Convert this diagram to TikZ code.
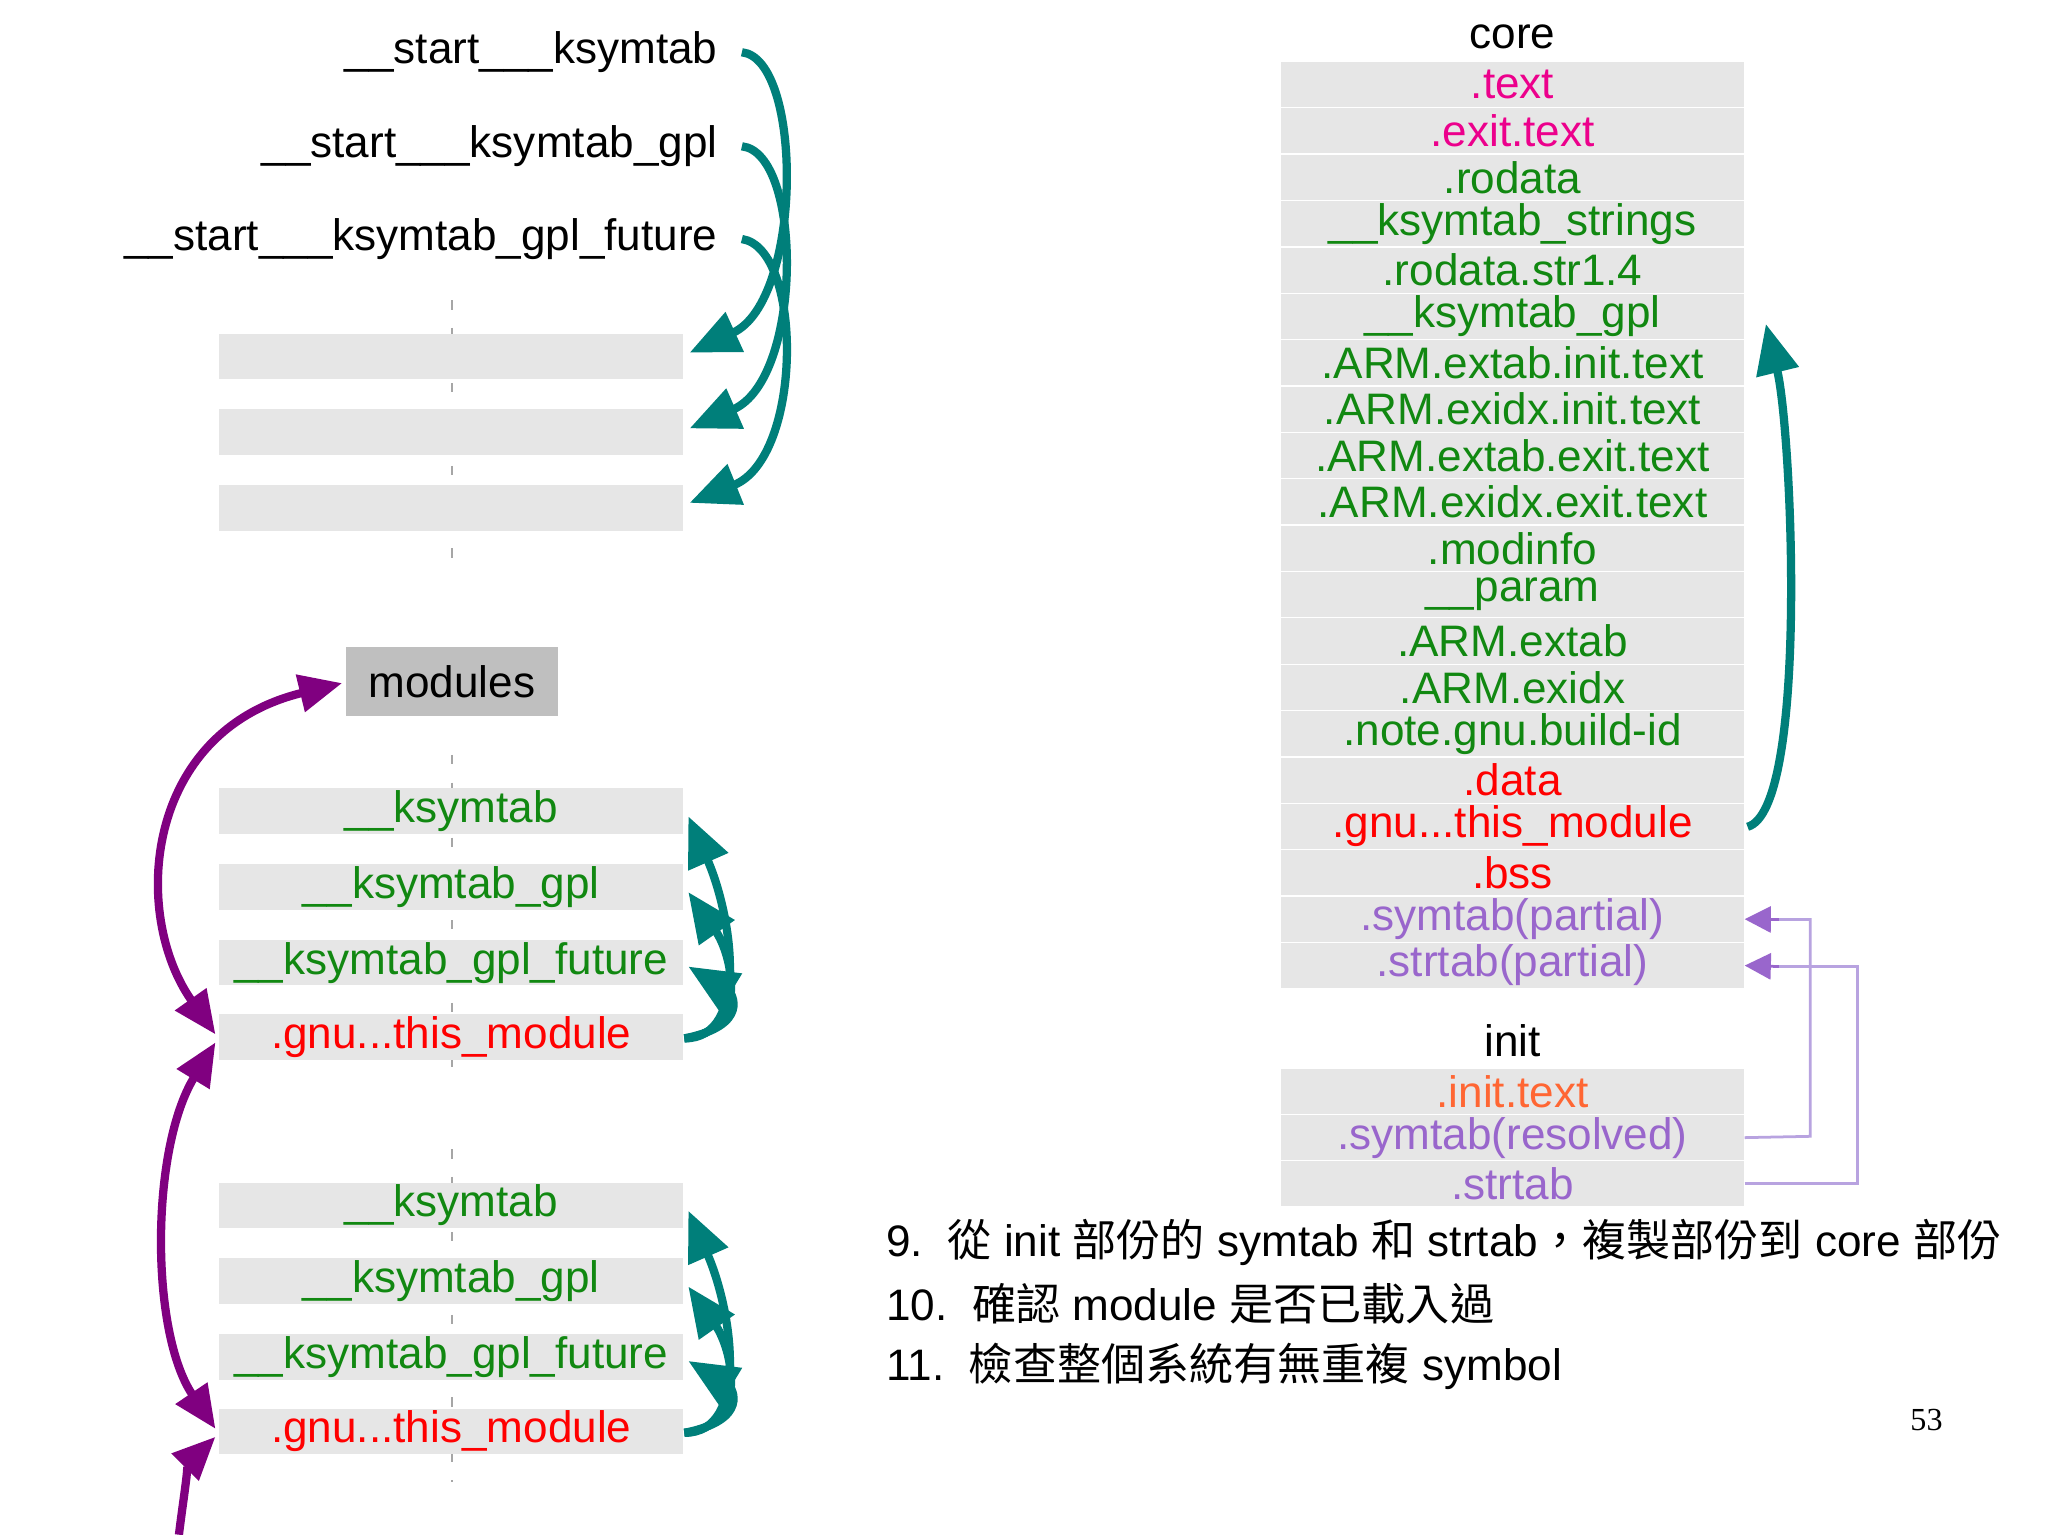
\documentclass[tikz,border=0pt]{standalone}
\usepackage{fontspec}
\setmainfont{Liberation Sans}
\newfontfamily\cjk{Noto Sans CJK TC}
\newfontfamily\serifnum{Liberation Serif}
\usetikzlibrary{arrows.meta}
\definecolor{tealc}{HTML}{007F7A}
\definecolor{purp}{HTML}{800080}
\definecolor{grn}{HTML}{118811}
\definecolor{lav}{HTML}{9966CC}
\definecolor{lavl}{HTML}{B8A3E0}
\definecolor{barc}{HTML}{E6E6E6}
\definecolor{orng}{HTML}{FF6633}
\begin{document}
\begin{tikzpicture}[x=0.01cm,y=-0.01cm,
  txt/.style={font=\fontsize{9.6}{11}\selectfont, inner sep=0pt},
  bar/.style={fill=barc, minimum width=3.55cm, minimum height=0.35cm, inner sep=0pt, font=\fontsize{9.6}{11}\selectfont},
  row/.style={fill=barc, minimum width=3.54cm, minimum height=0.345cm, inner sep=0pt, font=\fontsize{9.6}{11}\selectfont},
  dsh/.style={gray!70, dash pattern=on 2pt off 4pt, line width=0.5pt},
  tarr/.style={tealc, line width=1.8pt, -{Triangle[length=0.38cm,width=0.32cm]}},
  parr/.style={purp, line width=1.8pt, {Triangle[length=0.33cm,width=0.28cm]}-{Triangle[length=0.33cm,width=0.28cm]}},
  larr/.style={lavl, line width=0.6pt, -{Triangle[length=0.2cm,width=0.2cm]}, lav}]
\fill[white] (0,0) rectangle (1568,1175);
\useasboundingbox (0,0) rectangle (1568,1175);
% top left
\node[txt, anchor=east] (s1) at (550,40) {\_\_start\_\_\_ksymtab};
\node[txt, anchor=east] (s2) at (550,112) {\_\_start\_\_\_ksymtab\_gpl};
\node[txt, anchor=east] (s3) at (550,183) {\_\_start\_\_\_ksymtab\_gpl\_future};
\draw[dsh] (346,230) -- (346,430);
\node[bar] (t1) at (345.5,273) {};
\node[bar] (t2) at (345.5,331) {};
\node[bar] (t3) at (345.5,389) {};
\draw[tarr] (568,40) .. controls (615,45) and (615,230) .. (528,270);
\draw[tarr] (568,112) .. controls (615,117) and (615,290) .. (528,328);
\draw[tarr] (568,183) .. controls (615,190) and (615,350) .. (528,385);
% modules
\node[fill=black!25, minimum width=1.62cm, minimum height=0.53cm, inner sep=0pt, font=\fontsize{9.6}{11}\selectfont] (mod) at (346,522) {modules};
% group 1
\draw[dsh] (346,578) -- (346,830);
\node[bar, text=grn] (a1) at (345.5,621) {\_\_ksymtab};
\node[bar, text=grn] (a2) at (345.5,679) {\_\_ksymtab\_gpl};
\node[bar, text=grn] (a3) at (345.5,737) {\_\_ksymtab\_gpl\_future};
\node[bar, text=red] (a4) at (345.5,794) {.gnu...this\_module};
\draw[tarr] (524,795) .. controls (575,795) and (560,700) .. (527,625);
\draw[tarr] (524,795) .. controls (575,790) and (560,730) .. (527,683);
\draw[tarr] (524,795) .. controls (575,785) and (560,760) .. (527,740);
% group 2
\draw[dsh] (346,880) -- (346,1135);
\node[bar, text=grn] (b1) at (345.5,923) {\_\_ksymtab};
\node[bar, text=grn] (b2) at (345.5,981) {\_\_ksymtab\_gpl};
\node[bar, text=grn] (b3) at (345.5,1039) {\_\_ksymtab\_gpl\_future};
\node[bar, text=red] (b4) at (345.5,1096) {.gnu...this\_module};
\draw[tarr] (524,1097) .. controls (575,1097) and (560,1002) .. (527,927);
\draw[tarr] (524,1097) .. controls (575,1092) and (560,1032) .. (527,985);
\draw[tarr] (524,1097) .. controls (575,1087) and (560,1062) .. (527,1042);
% purple
\draw[parr] (165,792) .. controls (100,700) and (110,560) .. (262,523);
\draw[parr] (165,798) .. controls (115,880) and (115,1020) .. (165,1094);
\coordinate (offb) at (137,1175);
\draw[purp, line width=1.8pt, -{Triangle[length=0.33cm,width=0.28cm]}] (offb) .. controls (140,1150) and (145,1120) .. (165,1100);
% core
\node[txt] (core) at (1158,28) {core};
\foreach \i/\t/\c in {1/{.text}/magenta,2/{.exit.text}/magenta,3/{.rodata}/grn,4/{\_\_ksymtab\_strings}/grn,5/{.rodata.str1.4}/grn,6/{\_\_ksymtab\_gpl}/grn,7/{.ARM.extab.init.text}/grn,8/{.ARM.exidx.init.text}/grn,9/{.ARM.extab.exit.text}/grn,10/{.ARM.exidx.exit.text}/grn,11/{.modinfo}/grn,12/{\_\_param}/grn,13/{.ARM.extab}/grn,14/{.ARM.exidx}/grn,15/{.note.gnu.build-id}/grn,16/{.data}/red,17/{.gnu{.}{.}{.}this\_module}/red,18/{.bss}/red,19/{.symtab(partial)}/lav,20/{.strtab(partial)}/lav}
  \node[row, text=\c] (c\i) at (1158, {47+35.5*(\i-0.5)}) {\t};
\draw[tarr] (1338,633) .. controls (1385,620) and (1372,330) .. (1352,248);
\node[txt] (init) at (1158,797) {init};
\node[row, text=orng] (i1) at (1158,836) {.init.text};
\node[row, text=lav] (i2) at (1158,871) {.symtab(resolved)};
\node[row, text=lav] (i3) at (1158,906) {.strtab};
\draw[lavl, line width=0.6pt] (i2.east) -- (1386,870) -- (1386,704) -- (1360,704);
\draw[larr] (1362,704) -- (c19.east);
\draw[lavl, line width=0.6pt] (i3.east) -- (1422,906) -- (1422,740) -- (1360,740);
\draw[larr] (1362,740) -- (c20.east);
% text
\node[txt, anchor=west] (l9) at (678,951) {9.\ \ {\cjk 從} init {\cjk 部份的} symtab {\cjk 和} strtab{\cjk ，複製部份到} core {\cjk 部份}};
\node[txt, anchor=west] (l10) at (678,998) {10.\ \ {\cjk 確認} module {\cjk 是否已載入過}};
\node[txt, anchor=west] (l11) at (678,1046) {11.\ \ {\cjk 檢查整個系統有無重複} symbol};
\node[inner sep=0pt, font=\serifnum\fontsize{7}{8}\selectfont] (pg) at (1475,1087) {53};
\end{tikzpicture}
\end{document}
